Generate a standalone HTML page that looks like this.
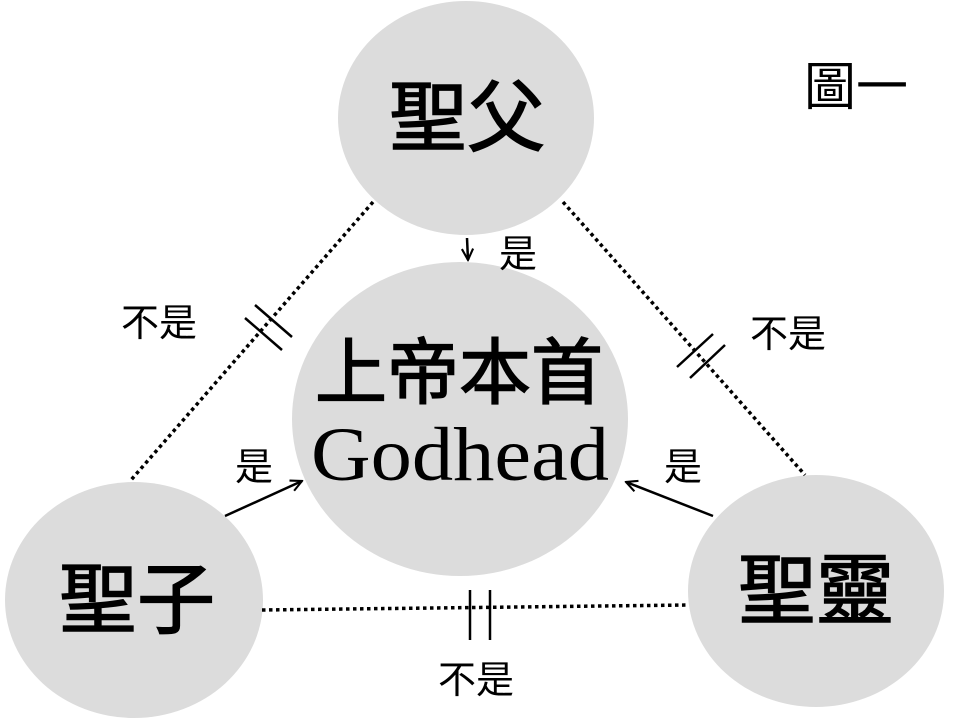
<!DOCTYPE html>
<html><head><meta charset="utf-8"><style>
html,body{margin:0;padding:0;background:#fff;}
svg{display:block}
.cjk{font-family:"Liberation Sans","Noto Sans CJK TC",sans-serif;}
</style></head><body>
<svg width="960" height="720" viewBox="0 0 960 720" xmlns="http://www.w3.org/2000/svg">
<defs>
<marker id="ah2" viewBox="0 0 10 10" refX="9" refY="5" markerWidth="14" markerHeight="14" orient="auto" markerUnits="userSpaceOnUse">
<path d="M1,1 L9,5 L1,9" fill="none" stroke="#000" stroke-width="1.5"/>
</marker>
</defs>
<ellipse cx="466" cy="118" rx="128" ry="117" fill="#dcdcdc"/>
<ellipse cx="460" cy="419" rx="168" ry="157" fill="#dcdcdc"/>
<ellipse cx="134" cy="600" rx="129" ry="118" fill="#dcdcdc"/>
<ellipse cx="816" cy="591" rx="128" ry="116" fill="#dcdcdc"/>

<g stroke="#000" stroke-width="3.5" stroke-dasharray="3.5 3.5" fill="none">
<line x1="373" y1="202" x2="131" y2="480"/>
<line x1="563" y1="202" x2="805" y2="475"/>
<line x1="262" y1="610" x2="688" y2="605"/>
</g>
<g stroke="#000" stroke-width="2.5">
<line x1="245" y1="318" x2="282" y2="350"/>
<line x1="255" y1="305" x2="292" y2="337"/>
<line x1="677" y1="367" x2="713" y2="334"/>
<line x1="690" y1="378" x2="725" y2="345"/>
<line x1="470" y1="590" x2="470" y2="640"/>
<line x1="490" y1="590" x2="490" y2="640"/>
</g>
<g stroke="#000" stroke-width="2.5" fill="none">
<line x1="467" y1="238" x2="468" y2="260" marker-end="url(#ah2)"/>
<line x1="225" y1="516" x2="302" y2="481" marker-end="url(#ah2)"/>
<line x1="713" y1="516" x2="626" y2="482" marker-end="url(#ah2)"/>
</g>

<g class="cjk" text-anchor="middle" fill="#000">
<g stroke="#000" stroke-width="1.5">
<text x="467" y="145" font-size="78">聖父</text>
<text x="137" y="627" font-size="78">聖子</text>
<text x="816" y="618" font-size="78">聖靈</text>
<text x="459" y="398" font-size="72">上帝本首</text>
</g>
<text x="856" y="105" font-size="52">圖一</text>
<text x="159" y="336" font-size="38">不是</text>
<text x="788" y="347" font-size="38">不是</text>
<text x="476" y="693" font-size="38">不是</text>
<text x="518" y="267" font-size="38">是</text>
<text x="254" y="480" font-size="38">是</text>
<text x="683" y="480" font-size="38">是</text>
</g>
<text x="460" y="480" text-anchor="middle" font-family="Liberation Serif, serif" font-size="76" fill="#000" textLength="298" lengthAdjust="spacingAndGlyphs">Godhead</text>
</svg>
</body></html>
